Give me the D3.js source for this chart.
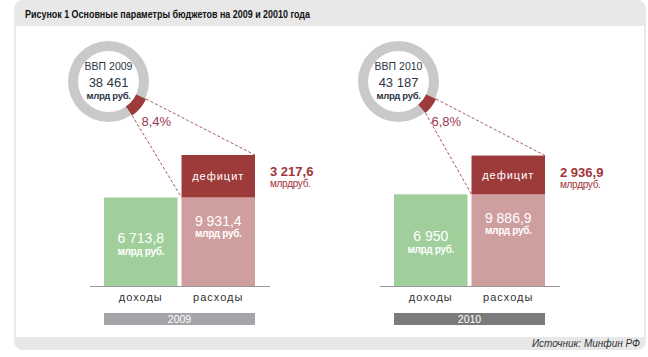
<!DOCTYPE html>
<html><head><meta charset="utf-8">
<script src="https://cdn.jsdelivr.net/npm/d3@7/dist/d3.min.js"></script>
<style>
body{margin:0;background:#fff;}
svg{display:block;font-family:"Liberation Sans",Arial,sans-serif;}
</style></head>
<body><svg id="c" width="648" height="357"></svg>
<script>
const title = "Рисунок 1 Основные параметры бюджетов на 2009 и 20010 года";
const source = "Источник: Минфин РФ";
const years = ["2009", "2010"];
const categories = ["доходы", "расходы"];
const gdp = [38461, 43187];
const income = [6713.8, 6950];
const expense = [9931.4, 9886.9];
const deficit = [3217.6, 2936.9];
const deficitShare = [8.4, 6.8];
const yearBarColors = ["#a5a4a9", "#7b7b7b"];

const loc = d3.formatLocale({decimal: ",", thousands: "\u00a0", grouping: [3], currency: ["", ""]});
const f0 = loc.format(",.0f"), f1 = loc.format(",.1f");
const fmt = v => Number.isInteger(v) ? f0(v) : f1(v);

const svg = d3.select("#c");

// frame
svg.append("rect").attr("x", 14).attr("y", 0).attr("width", 632).attr("height", 350).attr("rx", 9).attr("fill", "#e8e8e8");
svg.append("rect").attr("x", 16).attr("y", 26).attr("width", 628).attr("height", 311).attr("fill", "#ffffff");
svg.append("text").attr("x", 25).attr("y", 18).attr("font-size", 11.5).attr("font-weight", "bold").attr("fill", "#111")
  .attr("textLength", 285).attr("lengthAdjust", "spacingAndGlyphs").text(title);
svg.append("text").attr("x", 640).attr("y", 347).attr("text-anchor", "end").attr("font-size", 10).attr("font-style", "italic")
  .attr("fill", "#333").text(source);

const panelOffset = 290;
const x = d3.scaleBand().domain(categories).range([104, 255]).paddingInner(0.052).paddingOuter(0);
const y = d3.scaleLinear().domain([0, d3.max(expense)]).range([286, 155]);
const ringR = 40.5, ringIn = 30.5;
const arc = d3.arc();
const green = "#a0cf9c", pink = "#cf9e9e", red = "#9d3a3a", textRed = "#a0343a";

years.forEach((yr, i) => {
  const g = svg.append("g").attr("transform", `translate(${i * panelOffset},0)`);
  const cx = 108.5, cy = 81.5;
  // donut
  const dg = g.append("g").attr("transform", `translate(${cx},${cy})`);
  dg.append("path").attr("d", arc({innerRadius: ringIn, outerRadius: ringR, startAngle: 0, endAngle: 2 * Math.PI})).attr("fill", "#c9c9c9");
  const a0 = 115 * Math.PI / 180;
  const a1 = a0 + deficitShare[i] / 100 * 2 * Math.PI;
  dg.append("path").attr("d", arc({innerRadius: ringIn, outerRadius: ringR + 1, startAngle: a0, endAngle: a1})).attr("fill", red);
  dg.append("text").attr("y", -11.5).attr("text-anchor", "middle").attr("font-size", 10.5).attr("fill", "#2c3646").text("ВВП " + yr);
  dg.append("text").attr("y", 5).attr("text-anchor", "middle").attr("font-size", 13).attr("fill", "#2c3646").text(fmt(gdp[i]));
  dg.append("text").attr("y", 17.5).attr("text-anchor", "middle").attr("font-size", 9.5).attr("font-weight", "bold").attr("letter-spacing", -0.3).attr("fill", "#2c3646").text("млрд руб.");
  dg.append("text").attr("x", 33).attr("y", 44).attr("font-size", 13).attr("fill", "#9a3a52").text(loc.format(".1f")(deficitShare[i]) + "%");

  const xe = x("расходы"), bw = x.bandwidth();
  const pt = (a, r) => [cx + r * Math.sin(a), cy - r * Math.cos(a)];
  const p0 = pt(a0, ringR + 1), p1 = pt(a1, ringR + 1);
  g.append("line").attr("x1", p0[0]).attr("y1", p0[1]).attr("x2", xe + bw).attr("y2", y(expense[i]))
    .attr("stroke", "#a85a5a").attr("stroke-dasharray", "3,2").attr("stroke-width", 1);
  g.append("line").attr("x1", p1[0]).attr("y1", p1[1]).attr("x2", xe).attr("y2", y(expense[i] - deficit[i]))
    .attr("stroke", "#a85a5a").attr("stroke-dasharray", "3,2").attr("stroke-width", 1);

  // bars
  const xi = x("доходы");
  g.append("rect").attr("x", xi).attr("y", y(income[i])).attr("width", bw).attr("height", y(0) - y(income[i])).attr("fill", green);
  g.append("rect").attr("x", xe).attr("y", y(expense[i] - deficit[i])).attr("width", bw).attr("height", y(0) - y(expense[i] - deficit[i])).attr("fill", pink);
  g.append("rect").attr("x", xe).attr("y", y(expense[i])).attr("width", bw).attr("height", y(expense[i] - deficit[i]) - y(expense[i])).attr("fill", red);

  const ci = xi + bw / 2, ce = xe + bw / 2;
  const midI = (y(income[i]) + y(0)) / 2 - 4;
  g.append("text").attr("x", ci).attr("y", midI + 5).attr("text-anchor", "middle").attr("font-size", 14).attr("fill", "#fff").text(fmt(income[i]));
  g.append("text").attr("x", ci).attr("y", midI + 17).attr("text-anchor", "middle").attr("font-size", 10).attr("font-weight", "bold").attr("letter-spacing", -0.3).attr("fill", "#fff").text("млрд руб.");
  const topP = y(expense[i] - deficit[i]);
  g.append("text").attr("x", ce).attr("y", topP + 29).attr("text-anchor", "middle").attr("font-size", 14).attr("fill", "#fff").text(fmt(expense[i]));
  g.append("text").attr("x", ce).attr("y", topP + 40).attr("text-anchor", "middle").attr("font-size", 10).attr("font-weight", "bold").attr("letter-spacing", -0.3).attr("fill", "#fff").text("млрд руб.");
  g.append("text").attr("x", ce).attr("y", (y(expense[i]) + topP) / 2 + 4).attr("text-anchor", "middle").attr("font-size", 11).attr("letter-spacing", 1).attr("fill", "#fff").text("дефицит");

  // deficit label
  g.append("text").attr("x", xe + bw + 15).attr("y", y(expense[i]) + 21).attr("font-size", 13).attr("font-weight", "bold").attr("fill", textRed).text(fmt(deficit[i]));
  g.append("text").attr("x", xe + bw + 15).attr("y", y(expense[i]) + 32).attr("font-size", 10).attr("letter-spacing", -0.3).attr("fill", "#a0343a").text("млрдруб.");

  // baseline and axis labels
  g.append("line").attr("x1", 90).attr("x2", 270).attr("y1", y(0) + 0.5).attr("y2", y(0) + 0.5).attr("stroke", "#999").attr("stroke-width", 1);
  categories.forEach(c => {
    g.append("text").attr("x", x(c) + bw / 2).attr("y", 301).attr("text-anchor", "middle").attr("font-size", 11).attr("letter-spacing", 1).attr("fill", "#333").text(c);
  });
  g.append("rect").attr("x", x.range()[0]).attr("y", 313).attr("width", x.range()[1] - x.range()[0]).attr("height", 12).attr("fill", yearBarColors[i]);
  g.append("text").attr("x", (x.range()[0] + x.range()[1]) / 2).attr("y", 323).attr("text-anchor", "middle").attr("font-size", 10.5).attr("fill", "#fff").text(yr);
});
</script></body></html>
